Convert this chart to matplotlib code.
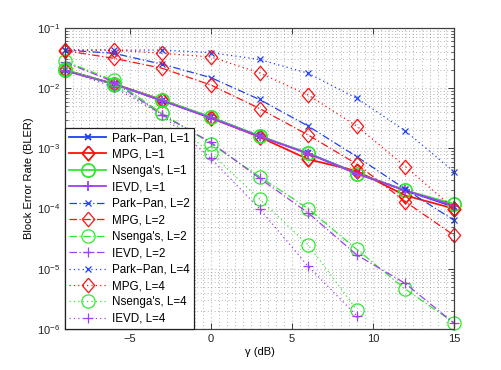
import numpy as np
import matplotlib
matplotlib.use('Agg')
import matplotlib.pyplot as plt
from matplotlib.ticker import LogLocator, MultipleLocator, NullFormatter

plt.rcParams['font.family'] = ['Liberation Sans', 'DejaVu Sans']
plt.rcParams['mathtext.fontset'] = 'custom'
plt.rcParams['mathtext.rm'] = 'Liberation Sans'
plt.rcParams['axes.unicode_minus'] = True

# SNR (dB)
gamma = [-9, -6, -3, 0, 3, 6, 9, 12, 15]
gamma4 = [-9, -6, -3, 0, 3, 6, 9]

# BLER, L=1
pp1 = [0.020, 0.0118, 0.0062, 3.3e-3, 1.6e-3, 8.3e-4, 3.9e-4, 2.0e-4, 1.07e-4]
mpg1 = [0.020, 0.0118, 0.0064, 3.2e-3, 1.55e-3, 6.6e-4, 4.2e-4, 1.65e-4, 1.0e-4]
ns1 = [0.020, 0.0118, 0.0064, 3.3e-3, 1.6e-3, 8.3e-4, 3.8e-4, 2.0e-4, 1.2e-4]
iev1 = [0.0195, 0.0118, 0.0062, 3.2e-3, 1.58e-3, 8.2e-4, 3.8e-4, 2.0e-4, 1.12e-4]

# BLER, L=2
pp2 = [0.043, 0.038, 0.025, 0.015, 6.5e-3, 2.35e-3, 7.3e-4, 2.1e-4, 6.4e-5]
mpg2 = [0.042, 0.0314, 0.0214, 0.0113, 4.6e-3, 1.67e-3, 5.5e-4, 1.3e-4, 3.6e-5]
ns2 = [0.028, 0.0135, 0.0038, 1.2e-3, 3.4e-4, 1.0e-4, 2.1e-5, 4.6e-6, 1.27e-6]
iev2 = [0.027, 0.0128, 0.0036, 1.26e-3, 3.2e-4, 8.5e-5, 1.7e-5, 5.7e-6, 1.25e-6]

# BLER, L=4
pp4 = [0.043, 0.043, 0.043, 0.039, 0.030, 0.0177, 6.8e-3, 1.95e-3, 4.1e-4]
mpg4 = [0.043, 0.043, 0.038, 0.033, 0.018, 7.7e-3, 2.35e-3, 5.0e-4, 1.0e-4]
ns4 = [0.021, 0.0113, 0.0038, 8.3e-4, 1.44e-4, 2.5e-5, 2.1e-6]
iev4 = [0.020, 0.0105, 0.0036, 6.8e-4, 1.0e-4, 1.1e-5, 1.66e-6]

blue = '#2040f0'
red = '#ff1010'
green = '#30e830'
purple = '#a040f0'

# matlab-like diamond (a bit taller than wide)
diamond = [(0, 1), (0.85, 0), (0, -1), (-0.85, 0), (0, 1)]

dashdot = (0, (6, 2, 1, 2))
dotted = (0, (1, 2.5))

fig = plt.figure(figsize=(5.01, 3.70), dpi=100)
ax = fig.add_axes([65 / 501, 41 / 370, 389 / 501, 301 / 370])

styles = [
    (pp1, gamma, blue, 'x', 4.5, '-', 1.3, 'Park\u2212Pan, L=1'),
    (mpg1, gamma, red, diamond, 10.5, '-', 1.3, 'MPG, L=1'),
    (ns1, gamma, green, 'o', 9.5, '-', 1.3, "Nsenga's, L=1"),
    (iev1, gamma, purple, '+', 7, '-', 1.3, 'IEVD, L=1'),
    (pp2, gamma, blue, 'x', 4.5, dashdot, 0.9, 'Park\u2212Pan, L=2'),
    (mpg2, gamma, red, diamond, 10.5, dashdot, 0.9, 'MPG, L=2'),
    (ns2, gamma, green, 'o', 9.5, dashdot, 0.9, "Nsenga's, L=2"),
    (iev2, gamma, purple, '+', 7, dashdot, 0.9, 'IEVD, L=2'),
    (pp4, gamma, blue, 'x', 4.5, dotted, 0.9, 'Park\u2212Pan, L=4'),
    (mpg4, gamma, red, diamond, 10.5, dotted, 0.9, 'MPG, L=4'),
    (ns4, gamma4, green, 'o', 9.5, dotted, 0.9, "Nsenga's, L=4"),
    (iev4, gamma4, purple, '+', 7, dotted, 0.9, 'IEVD, L=4'),
]

for y, x, c, m, ms, ls, lw, lab in styles:
    ax.semilogy(x, y, color=c, marker=m, markersize=ms, linestyle=ls,
                linewidth=lw, markerfacecolor='none', markeredgecolor=c,
                markeredgewidth=lw, label=lab, clip_on=False)

ax.set_xlim(-9, 15)
ax.set_ylim(1e-6, 1e-1)
ax.xaxis.set_major_locator(MultipleLocator(5))
ax.xaxis.set_minor_locator(MultipleLocator(0.5))
ax.yaxis.set_major_locator(LogLocator(base=10, numticks=10))
ax.yaxis.set_minor_locator(LogLocator(base=10, subs=np.arange(2, 10), numticks=20))
ax.yaxis.set_minor_formatter(NullFormatter())

ax.grid(True, which='major', color='#c8c8c8', linestyle=(0, (1, 2)), linewidth=0.9)
ax.grid(True, which='minor', color='#707070', linestyle=(0, (1, 4)), linewidth=0.5)
ax.set_axisbelow(True)

ax.tick_params(which='both', direction='in', top=True, right=True,
               labelsize=8, colors='#202020')
ax.tick_params(which='major', length=4, width=0.6)
ax.tick_params(which='minor', length=2, width=0.5)
ax.tick_params(axis='x', which='minor', length=0)
for s in ax.spines.values():
    s.set_color('#404040')
    s.set_linewidth(0.9)

ax.set_xlabel('\u03b3 (dB)', fontsize=8, labelpad=2)
ax.set_ylabel('Block Error Rate (BLER)', fontsize=8, labelpad=2)

leg = ax.legend(loc='lower left', fontsize=8.4, numpoints=1, fancybox=False,
                framealpha=1, edgecolor='#202020', borderaxespad=0,
                handlelength=3.2, handletextpad=0.5, labelspacing=0.38,
                borderpad=0.35)
leg.get_frame().set_linewidth(0.9)
leg.set_zorder(5)

fig.savefig('out.png', dpi=100)
